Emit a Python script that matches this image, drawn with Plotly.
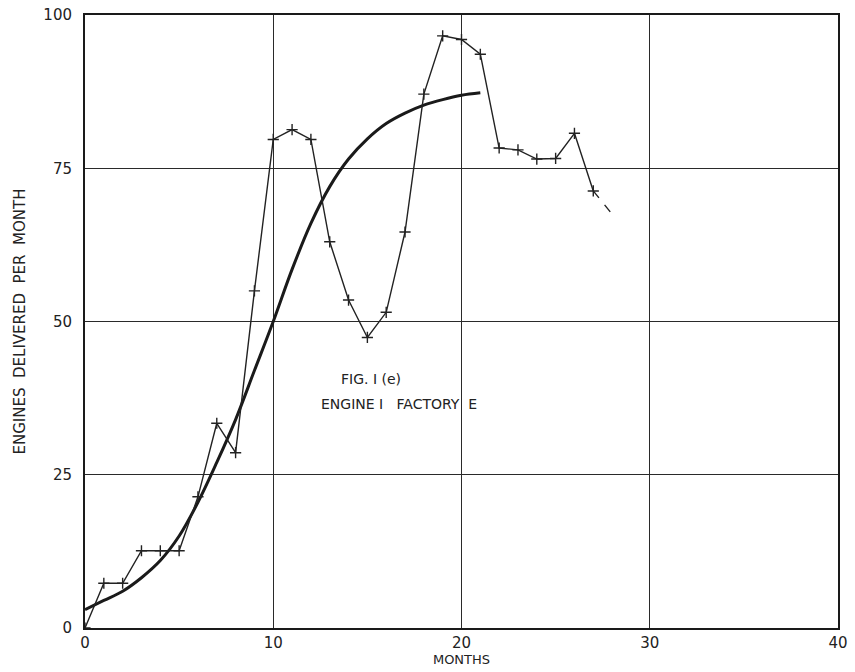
import plotly.graph_objects as go

# Actual deliveries (month, engines)
months = [0, 1, 2, 3, 4, 5, 6, 7, 8, 9, 10, 11, 12, 13, 14, 15, 16, 17, 18, 19, 20, 21, 22, 23, 24, 25, 26, 27]
deliveries = [0, 7.3, 7.3, 12.6, 12.6, 12.6, 21.4, 33.4, 28.6, 55, 79.7, 81.3, 79.7, 63, 53.5, 47.4, 51.5, 64.6, 87.1, 96.6, 96, 93.6, 78.3, 78, 76.5, 76.6, 80.7, 71.3]
# projected tail (dashed)
tail_months = [27, 28]
tail_values = [71.3, 67.5]

# Fitted smooth curve, read at monthly points
fit_months = [0, 1, 2, 3, 4, 5, 6, 7, 8, 9, 10, 11, 12, 13, 14, 15, 16, 17, 18, 19, 20, 21]
fit_values = [3, 4.5, 6, 8.2, 11, 15, 20.5, 27, 34, 42, 50, 58.5, 66, 72, 76.5, 79.8, 82.3, 84, 85.3, 86.2, 86.9, 87.3]

x_ticks = [0, 10, 20, 30, 40]
y_ticks = [0, 25, 50, 75, 100]

font_family = "DejaVu Sans"

fig = go.Figure()
fig.add_trace(go.Scatter(
    x=fit_months, y=fit_values, mode="lines",
    line=dict(color="#1a1a1a", width=3, shape="spline", smoothing=1.0),
    showlegend=False, hoverinfo="skip"))
fig.add_trace(go.Scatter(
    x=months, y=deliveries, mode="lines+markers",
    line=dict(color="#222222", width=1.4),
    marker=dict(symbol="cross-thin", size=8, line=dict(color="#222222", width=1.4)),
    showlegend=False))
fig.add_trace(go.Scatter(
    x=tail_months, y=tail_values, mode="lines",
    line=dict(color="#222222", width=1.4, dash="dash"),
    showlegend=False))

fig.add_annotation(x=15.2, y=40.6, xref="x", yref="y", text="FIG. I (e)", showarrow=False,
                   font=dict(family=font_family, size=14, color="#222"))
fig.add_annotation(x=16.7, y=36.6, xref="x", yref="y",
                   text="ENGINE&nbsp;I&nbsp;&nbsp;&nbsp;FACTORY&nbsp;&nbsp;E",
                   showarrow=False, font=dict(family=font_family, size=14, color="#222"))

fig.update_xaxes(
    range=[0, 40], tickvals=x_ticks, ticktext=[str(v) for v in x_ticks],
    showgrid=True, gridcolor="#2a2a2a", gridwidth=1.3,
    showline=True, linecolor="#1a1a1a", linewidth=2, mirror=True,
    zeroline=False, ticks="", tickfont=dict(family=font_family, size=15, color="#222"),
    automargin=False,
    title=dict(text="MONTHS", font=dict(family=font_family, size=13, color="#222"), standoff=2),
)
fig.update_yaxes(
    range=[0, 100], tickvals=y_ticks, ticktext=[str(v) for v in y_ticks],
    showgrid=True, gridcolor="#2a2a2a", gridwidth=1.3,
    showline=True, linecolor="#1a1a1a", linewidth=2, mirror=True,
    zeroline=False, ticks="", tickfont=dict(family=font_family, size=15, color="#222"),
    ticklabelstandoff=8, automargin=False,
    title=dict(text="ENGINES&nbsp;&nbsp;DELIVERED&nbsp;&nbsp;PER&nbsp;&nbsp;MONTH",
               font=dict(family=font_family, size=15, color="#222"), standoff=14),
)
fig.update_layout(
    width=855, height=672,
    margin=dict(l=85, r=17, t=15, b=44, autoexpand=False),
    paper_bgcolor="white", plot_bgcolor="white",
)
fig.write_html("out.html")
